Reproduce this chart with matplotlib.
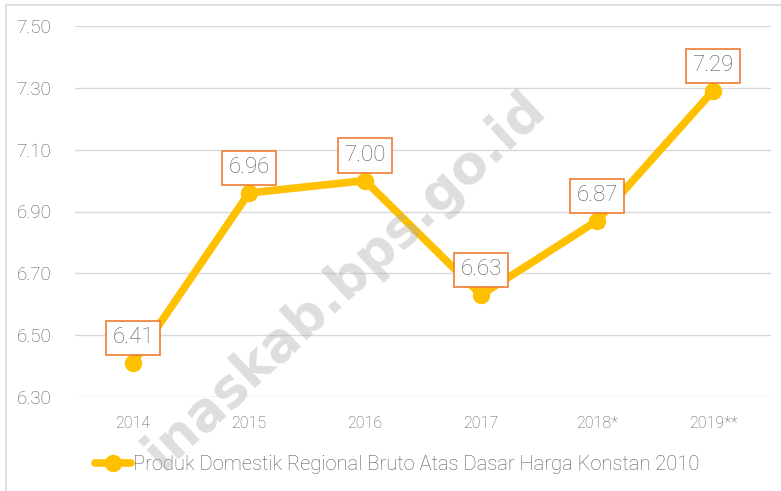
import matplotlib.pyplot as plt
from matplotlib.patches import Rectangle

# data
years = ['2014', '2015', '2016', '2017', '2018*', '2019**']
pdrb = [6.41, 6.96, 7.00, 6.63, 6.87, 7.29]
yticks = [6.30, 6.50, 6.70, 6.90, 7.10, 7.30, 7.50]
series_name = 'Produk Domestik Regional Bruto Atas Dasar Harga Konstan 2010'

plt.rcParams['font.family'] = ['Roboto', 'DejaVu Sans']
plt.rcParams['font.weight'] = 'light'
TXT = '#595959'
LINE = '#FFC000'

fig = plt.figure(figsize=(7.81, 4.91), dpi=100)
ax = fig.add_axes([75/781, 1-397/491, (771-75)/781, (397-26)/491])

x = list(range(len(years)))
ax.plot(x, pdrb, color=LINE, linewidth=5.5, marker='o', markersize=11.5,
        solid_capstyle='round', label=series_name, zorder=3)

for xi, v in zip(x, pdrb):
    ax.annotate(f'{v:.2f}', (xi, v), xytext=(0, 18), textcoords='offset points',
                ha='center', va='center', fontsize=16, color=TXT, zorder=5,
                bbox=dict(boxstyle='square,pad=0.3', fc='white', ec='#ED7D31', lw=1.2))

ax.set_xlim(-0.5, len(years)-0.5)
ax.set_ylim(6.30, 7.50)
ax.set_yticks(yticks)
ax.set_yticklabels([f'{t:.2f}' for t in yticks])
ax.set_xticks(x)
ax.set_xticklabels(years)
ax.grid(axis='y', color='#d9d9d9', linewidth=1)
ax.set_axisbelow(True)
for s in ax.spines.values():
    s.set_visible(False)
ax.tick_params(length=0)
ax.tick_params(axis='y', labelsize=13.5, labelcolor=TXT, pad=17)
ax.tick_params(axis='x', labelsize=11.5, labelcolor=TXT, pad=14)

leg = fig.legend(loc='center', bbox_to_anchor=(397/781, 1-465/491), frameon=False,
                 fontsize=14.5, handlelength=1.8, handletextpad=0.1, labelcolor=TXT)

# watermark
fig.text(345/781, 1-280/491, 'inaskab.bps.go.id', rotation=43, fontsize=38,
         fontweight='bold', family='DejaVu Sans', color='#b0b0b0', alpha=0.42,
         ha='center', va='center', zorder=10)

# border
fig.patches.append(Rectangle((6/781, -0.1), 1.2, 1-5/491+0.1, transform=fig.transFigure,
                             fill=False, ec='#d9d9d9', lw=1.2))

fig.savefig('out.png', dpi=100)
